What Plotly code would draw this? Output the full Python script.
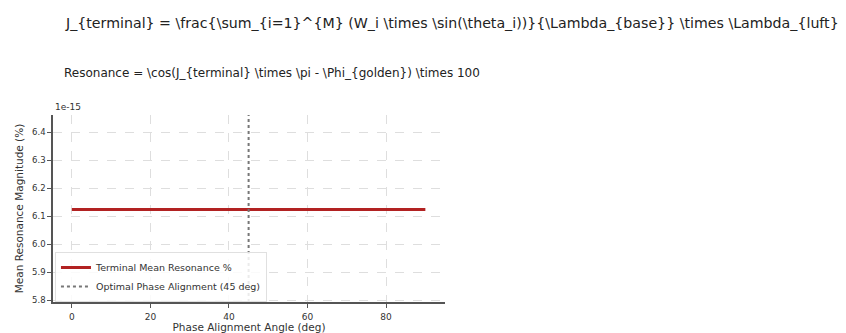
import plotly.graph_objects as go

# Data (resonance in units of 1e-15 %)
angles_deg = [0, 15, 30, 45, 60, 75, 90]
resonance_e15 = [6.123, 6.123, 6.123, 6.123, 6.123, 6.123, 6.123]
optimal_angle = 45
y_range = [5.793, 6.461]
x_range = [-4.8, 95.0]
x_ticks = [0, 20, 40, 60, 80]
y_ticks = [5.8, 5.9, 6.0, 6.1, 6.2, 6.3, 6.4]

title1 = r"J_{terminal} = \frac{\sum_{i=1}^{M} (W_i \times \sin(\theta_i))}{\Lambda_{base}} \times \Lambda_{luft}"
title2 = r"Resonance = \cos(J_{terminal} \times \pi - \Phi_{golden}) \times 100"

font = "DejaVu Sans"

fig = go.Figure()
fig.add_trace(go.Scatter(
    x=angles_deg, y=resonance_e15, mode="lines",
    line=dict(color="#b22222", width=3),
    name="Terminal Mean Resonance %",
))
fig.add_trace(go.Scatter(
    x=[optimal_angle, optimal_angle], y=y_range, mode="lines",
    line=dict(color="#777777", width=2, dash="dot"),
    name="Optimal Phase Alignment (45 deg)",
))

fig.update_layout(
    width=846, height=333,
    margin=dict(l=53, r=401, t=115, b=31),
    paper_bgcolor="white", plot_bgcolor="white",
    font=dict(family=font, size=9, color="#333"),
    showlegend=True,
    legend=dict(x=0.005, y=0.0, xanchor="left", yanchor="bottom",
                bgcolor="rgba(255,255,255,0.85)", bordercolor="#e0e0e0", borderwidth=1,
                font=dict(size=9.5, family=font), tracegroupgap=0, itemwidth=30),
    xaxis=dict(range=x_range, tickvals=x_ticks, showline=True, linecolor="#555", linewidth=1.5,
               ticks="outside", ticklen=4, tickcolor="#555", showgrid=True, gridcolor="#dedede",
               griddash="dash", zeroline=False, mirror=False, ticklabelstandoff=1,
               automargin=False,
               title=dict(text="Phase Alignment Angle (deg)", standoff=4, font=dict(size=10.5)),
               tickfont=dict(size=9)),
    yaxis=dict(range=y_range, tickvals=y_ticks, ticktext=[f"{v:.1f}" for v in y_ticks],
               showline=True, linecolor="#555", linewidth=1.5, automargin=False,
               ticks="outside", ticklen=4, tickcolor="#555", showgrid=True, gridcolor="#dedede",
               griddash="dash", zeroline=False,
               title=dict(text="Mean Resonance Magnitude (%)", standoff=6, font=dict(size=10.5)),
               tickfont=dict(size=8.5)),
    annotations=[
        dict(text=title1, xref="paper", yref="paper", x=10 / 392, y=1.0, yshift=92,
             xanchor="left", yanchor="middle", showarrow=False,
             font=dict(size=14.2, family=font, color="#222")),
        dict(text=title2, xref="paper", yref="paper", x=9 / 392, y=1.0, yshift=42,
             xanchor="left", yanchor="middle", showarrow=False,
             font=dict(size=12, family=font, color="#222")),
        dict(text="1e-15", xref="paper", yref="paper", x=0.0, y=1.0, yshift=8,
             xanchor="left", yanchor="middle", showarrow=False,
             font=dict(size=9, family=font, color="#333")),
    ],
)

fig.write_html("out.html")
